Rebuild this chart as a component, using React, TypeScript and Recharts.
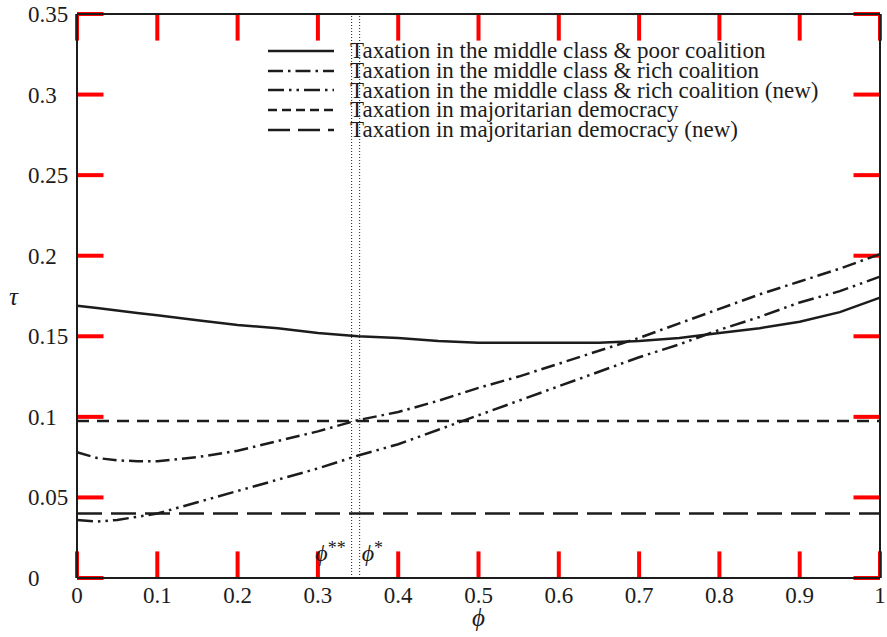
import { Label, Legend, Line, LineChart, ReferenceLine, XAxis, YAxis } from "recharts";

const INK = "#1c1c1c";
const TICK_INK = "#ff0000";
const FONT = '"Liberation Serif", "Times New Roman", serif';

// phi on the x axis
const phi = [0, 0.025, 0.05, 0.075, 0.1, 0.15, 0.2, 0.25, 0.3, 0.35, 0.4, 0.45, 0.5, 0.55, 0.6, 0.65, 0.7, 0.75, 0.8, 0.85, 0.9, 0.95, 1];

const poorCoalition = [0.169, 0.1675, 0.166, 0.1645, 0.163, 0.16, 0.157, 0.155, 0.152, 0.15, 0.149, 0.147, 0.146, 0.146, 0.146, 0.146, 0.147, 0.149, 0.152, 0.155, 0.159, 0.165, 0.174];
const richCoalition = [0.078, 0.0745, 0.073, 0.0725, 0.0725, 0.075, 0.079, 0.085, 0.091, 0.098, 0.103, 0.11, 0.118, 0.125, 0.133, 0.141, 0.149, 0.158, 0.167, 0.176, 0.184, 0.192, 0.201];
const richCoalitionNew = [0.036, 0.035, 0.036, 0.038, 0.04, 0.047, 0.054, 0.061, 0.068, 0.076, 0.083, 0.092, 0.101, 0.11, 0.119, 0.128, 0.137, 0.145, 0.154, 0.162, 0.171, 0.178, 0.187];
const majoritarian = [0.0975, 0.0975, 0.0975, 0.0975, 0.0975, 0.0975, 0.0975, 0.0975, 0.0975, 0.0975, 0.0975, 0.0975, 0.0975, 0.0975, 0.0975, 0.0975, 0.0975, 0.0975, 0.0975, 0.0975, 0.0975, 0.0975, 0.0975];
const majoritarianNew = [0.04, 0.04, 0.04, 0.04, 0.04, 0.04, 0.04, 0.04, 0.04, 0.04, 0.04, 0.04, 0.04, 0.04, 0.04, 0.04, 0.04, 0.04, 0.04, 0.04, 0.04, 0.04, 0.04];

const xTicks = [0, 0.1, 0.2, 0.3, 0.4, 0.5, 0.6, 0.7, 0.8, 0.9, 1];
const yTicks = [0, 0.05, 0.1, 0.15, 0.2, 0.25, 0.3, 0.35];

const phiStarStar = 0.342;
const phiStar = 0.352;

const SERIES = [
  { key: "poor", name: "Taxation in the middle class & poor coalition", dash: undefined, legendDash: undefined },
  { key: "rich", name: "Taxation in the middle class & rich coalition", dash: "14 5 2.5 5", legendDash: "15 5 2.5 5" },
  { key: "richNew", name: "Taxation in the middle class & rich coalition (new)", dash: "16 5 2.5 5 2.5 5", legendDash: "16 5 2.5 5 2.5 5" },
  { key: "maj", name: "Taxation in majoritarian democracy", dash: "12 8", legendDash: "9 5" },
  { key: "majNew", name: "Taxation in majoritarian democracy (new)", dash: "25 9", legendDash: "22 8" },
];

const data = phi.map((p, i) => ({
  phi: p,
  poor: poorCoalition[i],
  rich: richCoalition[i],
  richNew: richCoalitionNew[i],
  maj: majoritarian[i],
  majNew: majoritarianNew[i],
}));

const X_MIN = 0;
const X_MAX = 1;
const Y_MIN = 0;
const Y_MAX = 0.35;
// inner tick length, in axis units (about 9px each way)
const X_TICK_LEN = 0.011;
const Y_TICK_LEN = 0.0055;

const textProps = { fontFamily: FONT, fontSize: 23, fill: INK };

const BottomTick = ({ x, y, payload }: any) => (
  <text x={x} y={y + 25} textAnchor="middle" {...textProps}>
    {String(payload.value)}
  </text>
);

const LeftTick = ({ y, payload }: any) => (
  <text x={28} y={y + 8} textAnchor="start" {...textProps}>
    {String(payload.value)}
  </text>
);

const renderLegend = () => (
  <div style={{ fontFamily: FONT, fontSize: 23, color: INK }}>
    {SERIES.map((s) => (
      <div key={s.key} style={{ display: "flex", alignItems: "center", height: 19.8 }}>
        <svg width={66} height={10} style={{ display: "block" }}>
          <line x1={0} x2={66} y1={5} y2={5} stroke={INK} strokeWidth={2.5} strokeDasharray={s.legendDash} />
        </svg>
        <span style={{ marginLeft: 16, whiteSpace: "nowrap", lineHeight: "19.8px" }}>{s.name}</span>
      </div>
    ))}
  </div>
);

export default function App() {
  return (
    <div style={{ position: "absolute", left: 0, top: 0, background: "#fff" }}>
      <LineChart width={887} height={637} data={data} margin={{ top: 0, right: 0, bottom: 0, left: 0 }}>
        <XAxis
          dataKey="phi"
          type="number"
          domain={[X_MIN, X_MAX]}
          ticks={xTicks}
          height={59}
          axisLine={{ stroke: INK, strokeWidth: 2 }}
          tickLine={false}
          tickSize={0}
          tickMargin={0}
          tick={<BottomTick />}
          interval={0}
        >
          <Label value="ϕ" position="insideBottom" offset={11} fontFamily={FONT} fontSize={25} fontStyle="italic" fill={INK} />
        </XAxis>
        <XAxis
          xAxisId="top"
          dataKey="phi"
          orientation="top"
          type="number"
          domain={[X_MIN, X_MAX]}
          height={14}
          axisLine={{ stroke: INK, strokeWidth: 2 }}
          tickLine={false}
          tick={false}
        />
        <YAxis
          type="number"
          domain={[Y_MIN, Y_MAX]}
          ticks={yTicks}
          width={77}
          axisLine={{ stroke: INK, strokeWidth: 2 }}
          tickLine={false}
          tickSize={0}
          tickMargin={0}
          tick={<LeftTick />}
          interval={0}
        >
          <Label value="τ" position="insideLeft" offset={9} fontFamily={FONT} fontSize={25} fontStyle="italic" fill={INK} />
        </YAxis>
        <YAxis
          yAxisId="right"
          orientation="right"
          type="number"
          domain={[Y_MIN, Y_MAX]}
          width={7}
          axisLine={{ stroke: INK, strokeWidth: 2 }}
          tickLine={false}
          tick={false}
        />

        {/* inward ticks on all four sides of the box */}
        {xTicks.map((t) => (
          <ReferenceLine key={`xb-${t}`} segment={[{ x: t, y: Y_MIN }, { x: t, y: Y_MIN + Y_TICK_LEN * 3 }]} stroke={TICK_INK} strokeWidth={4} ifOverflow="visible" />
        ))}
        {xTicks.map((t) => (
          <ReferenceLine key={`xt-${t}`} segment={[{ x: t, y: Y_MAX }, { x: t, y: Y_MAX - Y_TICK_LEN * 3 }]} stroke={TICK_INK} strokeWidth={4} ifOverflow="visible" />
        ))}
        {yTicks.map((t) => (
          <ReferenceLine key={`yl-${t}`} segment={[{ x: X_MIN, y: t }, { x: X_MIN + X_TICK_LEN * 3, y: t }]} stroke={TICK_INK} strokeWidth={4} ifOverflow="visible" />
        ))}
        {yTicks.map((t) => (
          <ReferenceLine key={`yr-${t}`} segment={[{ x: X_MAX, y: t }, { x: X_MAX - X_TICK_LEN * 3, y: t }]} stroke={TICK_INK} strokeWidth={4} ifOverflow="visible" />
        ))}

        <ReferenceLine
          x={phiStarStar}
          stroke={INK}
          strokeWidth={1}
          strokeDasharray="1 2"
          label={({ viewBox }: any) => (
            <text x={viewBox.x - 6} y={viewBox.y + viewBox.height - 17} textAnchor="end" fontFamily={FONT} fontSize={24} fill={INK}>
              <tspan fontStyle="italic">ϕ</tspan>
              <tspan dy={-7} fontSize={18}>**</tspan>
            </text>
          )}
        />
        <ReferenceLine
          x={phiStar}
          stroke={INK}
          strokeWidth={1}
          strokeDasharray="1 2"
          label={({ viewBox }: any) => (
            <text x={viewBox.x + 2} y={viewBox.y + viewBox.height - 17} textAnchor="start" fontFamily={FONT} fontSize={24} fill={INK}>
              <tspan fontStyle="italic">ϕ</tspan>
              <tspan dy={-7} fontSize={18}>*</tspan>
            </text>
          )}
        />
        {SERIES.map((s) => (
          <Line
            key={s.key}
            dataKey={s.key}
            name={s.name}
            type="linear"
            stroke={INK}
            strokeWidth={2.5}
            strokeDasharray={s.dash}
            dot={false}
            activeDot={false}
            isAnimationActive={false}
          />
        ))}
        <Legend
          layout="vertical"
          verticalAlign="middle"
          align="center"
          content={renderLegend}
          wrapperStyle={{ left: 268, top: 41, width: "auto" }}
        />
      </LineChart>
    </div>
  );
}
